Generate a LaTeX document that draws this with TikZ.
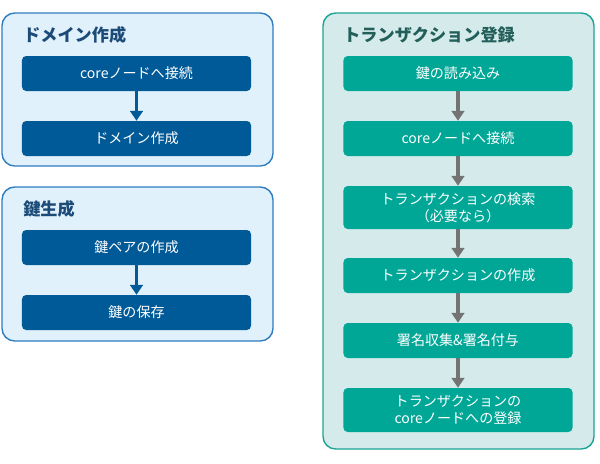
\documentclass[tikz,border=0pt]{standalone}
\usepackage{fontspec}
\setmainfont{Noto Sans CJK JP}
\usetikzlibrary{arrows.meta}

\definecolor{bluepanel}{HTML}{E0F1FB}
\definecolor{blueline}{HTML}{2F7DBF}
\definecolor{bluebox}{HTML}{005A97}
\definecolor{bluetitle}{HTML}{1C4B78}
\definecolor{tealpanel}{HTML}{D5EBEB}
\definecolor{tealline}{HTML}{1BA394}
\definecolor{tealbox}{HTML}{00A797}
\definecolor{tealtitle}{HTML}{225E5A}
\definecolor{arrowgray}{HTML}{737373}

\tikzset{
  panel/.style={rounded corners=9pt, line width=1pt},
  title/.style={anchor=west, inner sep=0pt, font=\fontsize{12.2}{14}\selectfont\bfseries},
  stepbox/.style={rounded corners=3pt, text=white, align=center, inner sep=0pt,
    minimum width=5.725cm, font=\fontsize{10}{12.2}\selectfont},
  bluearrow/.style={-{Triangle[length=7pt,width=9pt]}, line width=2.6pt, bluebox},
  grayarrow/.style={-{Triangle[length=7pt,width=9pt]}, line width=2.6pt, arrowgray},
}

\begin{document}
\begin{tikzpicture}[x=0.025cm, y=-0.025cm]
  \useasboundingbox (0,0) rectangle (600,463);

  % ドメイン作成
  \filldraw [panel, fill=bluepanel, draw=blueline] (2,13) rectangle (273,166);
  \node [title, text=bluetitle] (domtitle) at (23,35) {ドメイン作成};
  \node [stepbox, fill=bluebox, minimum height=0.875cm] (dom1) at (136.5,73.5) {coreノードへ接続};
  \node [stepbox, fill=bluebox, minimum height=0.875cm] (dom2) at (136.5,138.5) {ドメイン作成};
  \draw [bluearrow] (dom1) -- (dom2);

  % 鍵生成
  \filldraw [panel, fill=bluepanel, draw=blueline] (2,187) rectangle (273,341);
  \node [title, text=bluetitle] (keytitle) at (23,209) {鍵生成};
  \node [stepbox, fill=bluebox, minimum height=0.875cm] (key1) at (136.5,247.5) {鍵ペアの作成};
  \node [stepbox, fill=bluebox, minimum height=0.875cm] (key2) at (136.5,312.5) {鍵の保存};
  \draw [bluearrow] (key1) -- (key2);

  % トランザクション登録
  \filldraw [panel, fill=tealpanel, draw=tealline] (323,13) rectangle (594,449);
  \node [title, text=tealtitle] (txtitle) at (343,35) {トランザクション登録};
  \node [stepbox, fill=tealbox, minimum height=0.875cm] (tx1) at (458,73.5) {鍵の読み込み};
  \node [stepbox, fill=tealbox, minimum height=0.875cm] (tx2) at (458,138.5) {coreノードへ接続};
  \node [stepbox, fill=tealbox, minimum height=1.075cm] (tx3) at (458,207.5) {トランザクションの検索\\（必要なら）};
  \node [stepbox, fill=tealbox, minimum height=0.875cm] (tx4) at (458,275.5) {トランザクションの作成};
  \node [stepbox, fill=tealbox, minimum height=0.875cm] (tx5) at (458,340.5) {署名収集\&署名付与};
  \node [stepbox, fill=tealbox, minimum height=1.1cm] (tx6) at (458,410) {トランザクションの\\coreノードへの登録};
  \foreach \a/\b in {tx1/tx2, tx2/tx3, tx3/tx4, tx4/tx5, tx5/tx6}
    \draw [grayarrow] (\a) -- (\b);
\end{tikzpicture}
\end{document}
